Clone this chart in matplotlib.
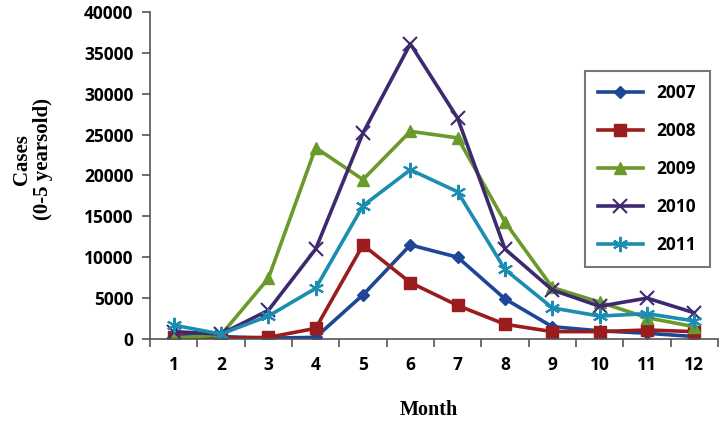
import numpy as np
import matplotlib.pyplot as plt

months = list(range(1, 13))
years = ["2007", "2008", "2009", "2010", "2011"]

cases_2007 = [500, 300, 100, 200, 5400, 11500, 10000, 4900, 1500, 1000, 700, 300]
cases_2008 = [300, 100, 200, 1300, 11500, 6900, 4100, 1800, 900, 900, 1100, 900]
cases_2009 = [100, 500, 7400, 23400, 19500, 25400, 24600, 14300, 6300, 4500, 2600, 1500]
cases_2010 = [900, 600, 3500, 11000, 25200, 36100, 27000, 11000, 6000, 4000, 5000, 3200]
cases_2011 = [1700, 600, 2800, 6200, 16300, 20700, 18000, 8500, 3800, 2800, 3100, 2200]

series = [cases_2007, cases_2008, cases_2009, cases_2010, cases_2011]
colors = ["#1d4796", "#9a1c1c", "#6a9a2a", "#3e2870", "#1c8db0"]
markers = ["D", "s", "^", "x", (6, 2, 0)]
msizes = [6, 9, 9, 10, 11]

fig = plt.figure(figsize=(7.26, 4.25), dpi=100)
ax = fig.add_axes([0.2066, 0.2024, 0.7824, 0.7694])

for vals, c, m, ms, lab in zip(series, colors, markers, msizes, years):
    ax.plot(months, vals, color=c, lw=2.6, marker=m, markersize=ms,
            markeredgewidth=1.5 if m in ("x", (6, 2, 0)) else 1, label=lab)

ax.set_xlim(0.5, 12.5)
ax.set_ylim(0, 40000)
ax.set_yticks(np.arange(0, 40001, 5000))
ax.set_xticks(months)
ax.set_xticks(np.arange(0.5, 12.6, 1), minor=True)
ax.tick_params(axis="x", which="major", length=0, pad=12)
ax.tick_params(axis="x", which="minor", length=6, width=1.2, color="#555555")
ax.tick_params(axis="y", length=6, width=1.2, color="#555555", pad=6)
for lab in ax.get_xticklabels() + ax.get_yticklabels():
    lab.set_fontsize(12.5)
    lab.set_fontweight("bold")
    lab.set_fontfamily("Open Sans")

for s in ("top", "right"):
    ax.spines[s].set_visible(False)
for s in ("left", "bottom"):
    ax.spines[s].set_color("#555555")
    ax.spines[s].set_linewidth(1.2)

fig.text(0.045, 0.625, "Cases\n(0-5 yearsold)", rotation=90, ha="center", va="center",
         fontsize=15, fontweight="bold", family="Liberation Serif", linespacing=1.05)
fig.text(0.59, 0.035, "Month", ha="center", va="center",
         fontsize=14.5, fontweight="bold", family="Liberation Serif")

leg = ax.legend(loc="upper left", bbox_to_anchor=(0.75, 0.845), frameon=True,
                fancybox=False, edgecolor="#555555", labelspacing=1.15,
                handlelength=2.6, borderpad=0.75, prop={"family": "Open Sans", "weight": "bold", "size": 12.5})
leg.get_frame().set_linewidth(1.5)

fig.savefig("out.png", dpi=100)
